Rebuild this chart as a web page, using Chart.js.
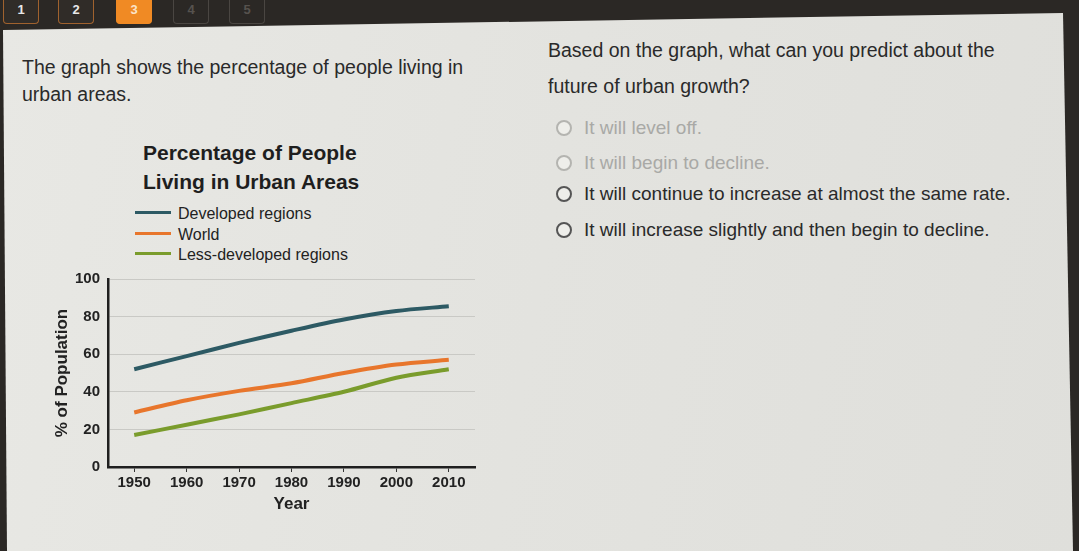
<!DOCTYPE html>
<html>
<head>
<meta charset="utf-8">
<script src="https://cdn.jsdelivr.net/npm/chart.js@4.4.1/dist/chart.umd.min.js"></script>
<style>
  html, body { margin: 0; padding: 0; }
  body {
    width: 1079px; height: 551px; overflow: hidden; position: relative;
    background: #2b2825; font-family: "Liberation Sans", Arial, sans-serif; color: #2a2a2a;
  }
  .card {
    position: absolute; left: 0; top: 0; width: 1079px; height: 551px;
    background: linear-gradient(100deg, #e8e8e4 0%, #e3e3df 50%, #dfdfdb 100%);
    clip-path: polygon(3px 30px, 1063px 13px, 1073px 551px, 7px 551px);
  }
  .tab {
    position: absolute; top: 0; height: 24px; width: 36px; box-sizing: border-box;
    border: 1px solid #a0622e; border-top: none; border-radius: 0 0 4px 4px;
    background: #302c28; color: #e8e8e8; font: bold 13px "Liberation Sans", Arial, sans-serif;
    text-align: center; line-height: 20px;
  }
  .tab.on { background: #f08a24; border-color: #f08a24; color: #fbe3c8; }
  .tab.off { border-color: #4a4642; color: #56524e; background: #2b2825; }
  .txt { position: absolute; font-size: 19.5px; white-space: nowrap; }
  .opt { position: absolute; left: 556px; height: 20px; font-size: 19px; line-height: 20px; white-space: nowrap; }
  .opt i {
    display: inline-block; width: 12px; height: 12px; border: 2px solid #555; border-radius: 50%;
    vertical-align: -2px; margin-right: 12px; background: #eeeeea;
  }
  .opt.faded { color: #a9a9a6; }
  .opt.faded i { border-color: #b4b4b0; }
  #chartTitle {
    position: absolute; left: 143px; top: 138px; font: bold 21px/29px "Liberation Sans", Arial, sans-serif;
    color: #1e1e1e; white-space: nowrap;
  }
  #legend { position: absolute; left: 135px; top: 204px; }
  #legend div { height: 20.5px; line-height: 20px; font-size: 16px; white-space: nowrap; color: #222; }
  #legend span { display: inline-block; width: 36px; height: 3px; margin-right: 7px; vertical-align: 5px; }
  #wrap { position: absolute; left: 40px; top: 262px; width: 445px; height: 265px; }
</style>
</head>
<body>
<div class="card"></div>
<div class="tab" style="left:3px">1</div>
<div class="tab" style="left:58px">2</div>
<div class="tab on" style="left:116px">3</div>
<div class="tab off" style="left:173px">4</div>
<div class="tab off" style="left:229px">5</div>

<div class="txt" style="left:22px;top:54px;line-height:27px">The graph shows the percentage of people living in<br>urban areas.</div>
<div class="txt" style="left:548px;top:32px;line-height:36px">Based on the graph, what can you predict about the<br>future of urban growth?</div>

<div class="opt faded" style="top:118px"><i></i>It will level off.</div>
<div class="opt faded" style="top:153px"><i></i>It will begin to decline.</div>
<div class="opt" style="top:184px"><i></i>It will continue to increase at almost the same rate.</div>
<div class="opt" style="top:220px"><i></i>It will increase slightly and then begin to decline.</div>

<div id="chartTitle">Percentage of People<br>Living in Urban Areas</div>
<div id="legend"></div>
<div id="wrap"><canvas id="urbanChart"></canvas></div>

<script>
// datos
const years = ['1950', '1960', '1970', '1980', '1990', '2000', '2010'];
const seriesNames = ['Developed regions', 'World', 'Less-developed regions'];
const developed = [52, 59, 66, 72.5, 78.5, 83, 85.5];
const world = [29, 35.5, 40.5, 44.5, 50, 54.5, 57];
const lessDeveloped = [17, 22.5, 28, 34, 40, 47.5, 52];
const yTicks = [0, 20, 40, 60, 80, 100];

const lineColors = ['#2d5a64', '#e8762c', '#7a9c2c'];

function buildLegend(chart) {
  const box = document.getElementById('legend');
  box.innerHTML = '';
  chart.data.datasets.forEach(ds => {
    const row = document.createElement('div');
    row.innerHTML = `<span style="background:${ds.borderColor}"></span>${ds.label}`;
    box.appendChild(row);
  });
}

const ctx = document.getElementById('urbanChart').getContext('2d');
const chart = new Chart(ctx, {
  type: 'line',
  data: {
    labels: years,
    datasets: [developed, world, lessDeveloped].map((vals, i) => ({
      label: seriesNames[i],
      data: vals,
      borderColor: lineColors[i],
      borderWidth: 4,
      pointRadius: 0,
      tension: 0.3,
      fill: false
    }))
  },
  options: {
    responsive: true,
    maintainAspectRatio: false,
    animation: false,
    layout: { padding: { top: 13, right: 10, left: 0, bottom: 0 } },
    plugins: { legend: { display: false }, title: { display: false }, tooltip: { enabled: false } },
    scales: {
      x: {
        offset: true,
        afterFit: s => { s.height = 60; },
        grid: { drawOnChartArea: false, drawTicks: true, tickLength: 5, color: '#333', lineWidth: 1 },
        border: { display: true, color: '#1f1f1f', width: 2.5 },
        ticks: { color: '#222', padding: 2, maxRotation: 0, font: { family: 'Liberation Sans', size: 15, weight: 'bold' } },
        title: { display: true, text: 'Year', color: '#222', padding: { top: 4, bottom: 12 },
                 font: { family: 'Liberation Sans', size: 17, weight: 'bold' } }
      },
      y: {
        min: 0, max: 100,
        afterFit: s => { s.width = 68; },
        afterBuildTicks: s => { s.ticks = yTicks.map(v => ({ value: v })); },
        grid: { color: '#c9c9c5', lineWidth: 1, drawTicks: false },
        border: { display: true, color: '#1f1f1f', width: 2.5 },
        ticks: { color: '#222', padding: 8, font: { family: 'Liberation Sans', size: 15, weight: 'bold' } },
        title: { display: true, text: '% of Population', color: '#222', padding: { top: 12, bottom: 4 },
                 font: { family: 'Liberation Sans', size: 17, weight: 'bold' } }
      }
    }
  }
});

buildLegend(chart);
</script>
</body>
</html>
